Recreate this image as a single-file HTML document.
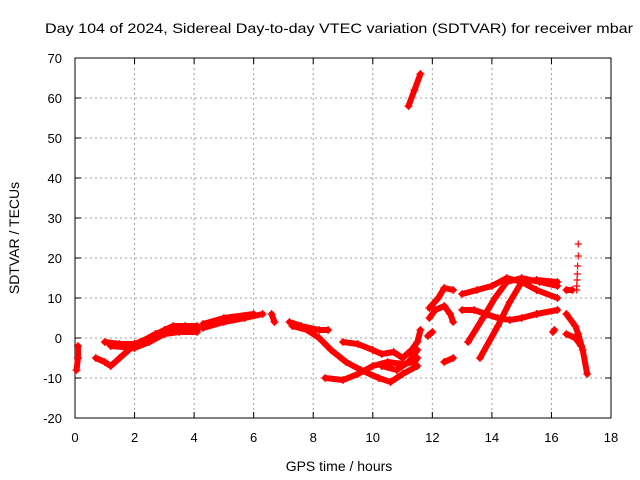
<!DOCTYPE html>
<html><head><meta charset="utf-8"><style>body{margin:0;background:#fff}svg{display:block;font-family:"Liberation Sans",sans-serif}</style></head>
<body>
<svg id="c" width="640" height="480" xmlns="http://www.w3.org/2000/svg"></svg>
<script>
const xTicks=[0,2,4,6,8,10,12,14,16,18];
const yTicks=[-20,-10,0,10,20,30,40,50,60,70];
const tracks=[
[[0.05,-8],[0.1,-5],[0.1,-2]],
[[0.7,-5],[1.0,-6],[1.2,-7],[1.5,-5],[1.8,-3],[2.2,-1],[2.7,1],[3.2,2.5],[3.7,2],[4.1,2]],
[[1.0,-1],[1.5,-1.5],[2.0,-1.5],[2.5,0],[3.0,2],[3.3,3],[3.7,3],[4.1,3]],
[[1.2,-2],[2.0,-2.5],[2.5,-1],[3.0,1],[3.5,1.5],[4.1,1.5]],
[[4.3,2.5],[5.0,4],[5.7,5],[6.3,6]],
[[4.3,3.5],[5.0,5],[6.0,6]],
[[6.6,6],[6.7,4]],
[[7.2,4],[7.6,3],[8.2,2],[8.5,2]],
[[7.3,3],[7.8,2],[8.2,0],[8.6,-3],[9.1,-6],[9.6,-8],[10.2,-10],[10.6,-11],[11.0,-9],[11.5,-7]],
[[8.4,-10],[9.0,-10.5],[9.5,-9],[10.0,-7],[10.5,-6],[11.0,-6.5],[11.4,-6],[11.5,-5]],
[[9.0,-1],[9.5,-1.5],[10.0,-3],[10.3,-4],[10.7,-3.5],[11.0,-5],[11.3,-3],[11.5,-1],[11.6,2]],
[[10.3,-7],[10.8,-8],[11.2,-6],[11.5,-3]],
[[11.2,58],[11.4,62],[11.6,66]],
[[11.9,7.5],[12.2,10],[12.4,12.5],[12.7,12]],
[[11.9,5],[12.1,7],[12.4,8],[12.6,6],[12.7,4]],
[[11.85,0.5],[12.0,1.5]],
[[12.4,-6],[12.7,-5]],
[[13.0,11],[13.5,12],[14.0,13],[14.5,15],[15.0,14],[15.5,14.5],[16.2,14]],
[[13.0,7],[13.4,7],[13.8,6],[14.2,5],[14.6,4.5],[15.0,5],[15.5,6],[16.2,7]],
[[13.6,-5],[14.2,3],[14.6,9],[15.0,14],[15.5,12],[16.2,10]],
[[13.2,-1],[13.7,5],[14.1,10],[14.5,14],[15.0,15],[15.6,14],[16.2,13]],
[[16.05,1.5],[16.1,2]],
[[16.5,12],[16.7,12]],
[[16.5,6],[16.8,3],[16.9,1],[17.05,-3],[17.2,-9]],
[[16.5,1],[16.8,0],[17.0,-2]]
];
const sparse=[[16.85,12],[16.85,13],[16.86,14.5],[16.87,16],[16.88,18],[16.9,20.5],[16.9,23.5]];
const L=75,R=611,T=58,B=418,X0=0,X1=18,Y0=-20,Y1=70;
const sx=h=>L+(h-X0)/(X1-X0)*(R-L), sy=v=>B-(v-Y0)/(Y1-Y0)*(B-T);
const svg=document.getElementById('c'),NS='http://www.w3.org/2000/svg';
function mk(t,a,p){const e=document.createElementNS(NS,t);for(const k in a)e.setAttribute(k,a[k]);(p||svg).appendChild(e);return e;}
const grid=mk('g',{});


xTicks.forEach(t=>{const x=sx(t);
 if(t>X0&&t<X1)mk('line',{x1:x,y1:T,x2:x,y2:B,stroke:'#a0a0a0','stroke-dasharray':'2,3'},grid);
 mk('line',{x1:x,y1:B,x2:x,y2:B-6,stroke:'#000'},grid);mk('line',{x1:x,y1:T,x2:x,y2:T+6,stroke:'#000'},grid);
 const tx=mk('text',{x:x,y:442,'text-anchor':'middle','font-size':13,fill:'#000'});tx.textContent=t;
 
 });
yTicks.forEach(t=>{const y=sy(t);
 if(t>Y0&&t<Y1)mk('line',{x1:L,y1:y,x2:R,y2:y,stroke:'#a0a0a0','stroke-dasharray':'2,3'},grid);
 mk('line',{x1:L,y1:y,x2:L+6,y2:y,stroke:'#000'},grid);mk('line',{x1:R,y1:y,x2:R-6,y2:y,stroke:'#000'},grid);
 const tx=mk('text',{x:62,y:y+5,'text-anchor':'end','font-size':13,fill:'#000'});tx.textContent=t;
 
 });
const frame=mk('rect',{x:L,y:T,width:R-L,height:B-T,fill:'none',stroke:'#000'});


function cross(x,y,g,s){mk('path',{d:`M${x-s},${y}h${2*s}M${x},${y-s}v${2*s}`,stroke:'#f00','stroke-width':1.2},g);}
tracks.forEach(tr=>{
 const g=mk('g',{});
 
 
 if(tr.length>1)mk('polyline',{points:tr.map(p=>sx(p[0])+','+sy(p[1])).join(' '),fill:'none',stroke:'#f00','stroke-width':6,'stroke-linejoin':'round','stroke-linecap':'round'},g);
 tr.forEach(p=>cross(sx(p[0]),sy(p[1]),g,4));
});
const sg=mk('g',{});


sparse.forEach(p=>cross(sx(p[0]),sy(p[1]),sg,3.5));
const title=mk('text',{x:339,y:33,'text-anchor':'middle','font-size':14,textLength:588,lengthAdjust:'spacingAndGlyphs',fill:'#000'});
title.textContent='Day 104 of 2024, Sidereal Day-to-day VTEC variation (SDTVAR) for receiver mbar';


const xl=mk('text',{x:339,y:471,'text-anchor':'middle','font-size':14,fill:'#000'});
xl.textContent='GPS time / hours';


const yl=mk('text',{x:0,y:0,'text-anchor':'middle','font-size':14,fill:'#000',transform:'translate(19,238) rotate(-90)'});
yl.textContent='SDTVAR / TECUs';


</script>
</body></html>
